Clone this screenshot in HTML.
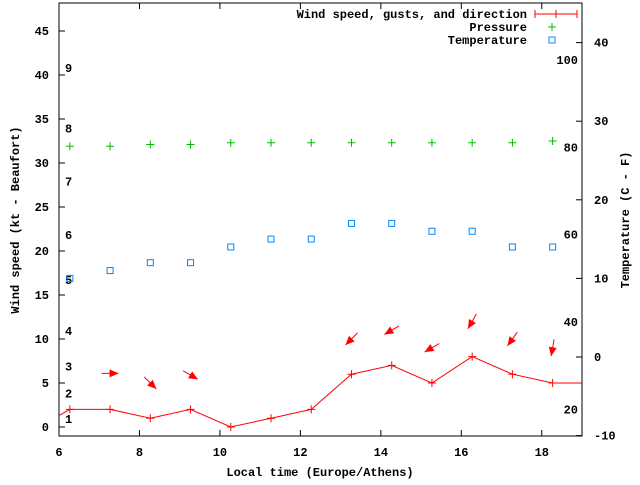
<!DOCTYPE html>
<html><head><meta charset="utf-8"><style>
body{margin:0;background:#fff}
svg text{font-family:"Liberation Mono",monospace;font-size:12px;font-weight:bold;fill:#000}
</style></head><body>
<svg id="c" width="640" height="480" xmlns="http://www.w3.org/2000/svg"></svg>
<script>
const hours=[6.27,7.27,8.27,9.27,10.27,11.27,12.27,13.27,14.27,15.27,16.27,17.27,18.27];
const wind=[2,2,1,2,0,1,2,6,7,5,8,6,5];
const windEdgeStart=[6,1.3];
const windEdgeEnd=[19.27,5];
const pressure=[31.9,31.9,32.1,32.1,32.3,32.3,32.3,32.3,32.3,32.3,32.3,32.3,32.5];
const temperature=[10,11,12,12,14,15,15,17,17,16,16,14,14];
const arrowHours=[7.27,8.27,9.27,13.27,14.27,15.27,16.27,17.27,18.27];
const gusts=[6.1,5,5.9,10,11,9,12,10,9];
const windFrom=[270,315,300,45,60,60,30,35,10];
const xTicks=[6,8,10,12,14,16,18];
const yTicks=[0,5,10,15,20,25,30,35,40,45];
const tTicks=[-10,0,10,20,30,40];
const fTicks=[20,40,60,80,100];
const bftLabels=[1,2,3,4,5,6,7,8,9];
const bftValues=[0.9,3.8,6.9,10.9,16.7,21.8,27.9,33.9,40.8];

const L=59,R=582,T=3,B=436;
const X=h=>L+(h-6)/13*(R-L);
const Y=v=>427-v*8.8;
const TY=t=>357-t*7.86;
const FY=f=>TY((f-32)*5/9);
const svg=document.getElementById('c');
const NS='http://www.w3.org/2000/svg';
function mk(tag,attrs,name,txt){const e=document.createElementNS(NS,tag);for(const k in attrs)e.setAttribute(k,attrs[k]);


if(txt!==undefined)e.textContent=txt;svg.appendChild(e);return e;}
mk('rect',{x:L,y:T,width:R-L,height:B-T,fill:'none',stroke:'#000'},'plot-frame');
xTicks.forEach(h=>{const x=X(h);mk('line',{x1:x,y1:B,x2:x,y2:B-6,stroke:'#000'},'x-tick');mk('line',{x1:x,y1:T,x2:x,y2:T+6,stroke:'#000'},'x-tick-top');
mk('text',{x:x,y:B+20,'text-anchor':'middle'},'x-tick-label',h);});
yTicks.forEach(v=>{const y=Y(v);mk('line',{x1:L,y1:y,x2:L+6,y2:y,stroke:'#000'},'y-tick');
mk('text',{x:L-10,y:y+4,'text-anchor':'end'},'y-tick-label',v);});
tTicks.forEach(t=>{const y=TY(t);mk('line',{x1:R,y1:y,x2:R-6,y2:y,stroke:'#000'},'temp-tick');
mk('text',{x:R+12,y:y+4},'temp-tick-label',t);});
fTicks.forEach(f=>mk('text',{x:R-4,y:FY(f)+4,'text-anchor':'end'},'fahrenheit-label',f));
bftLabels.forEach((b,i)=>mk('text',{x:65,y:Y(bftValues[i])+4},'beaufort-label',b));
mk('text',{x:320,y:476,'text-anchor':'middle'},'x-axis-title','Local time (Europe/Athens)');
mk('text',{x:19,y:220,'text-anchor':'middle',transform:'rotate(-90 19 220)'},'y-axis-title','Wind speed (kt - Beaufort)');
mk('text',{x:629,y:220,'text-anchor':'middle',transform:'rotate(-90 629 220)'},'y2-axis-title','Temperature (C - F)');
// wind line
let pts=[[X(windEdgeStart[0]),Y(windEdgeStart[1])]];
hours.forEach((h,i)=>pts.push([X(h),Y(wind[i])]));
pts.push([R,Y(windEdgeEnd[1])]);
mk('polyline',{points:pts.map(p=>p.join(',')).join(' '),fill:'none',stroke:'#f00'},'wind-line');
hours.forEach((h,i)=>{const x=X(h),y=Y(wind[i]);mk('path',{d:`M${x-4},${y}h8M${x},${y-4}v8`,stroke:'#f00'},'wind-point');});
pressure.forEach((p,i)=>{const x=X(hours[i]),y=Y(p);mk('path',{d:`M${x-4},${y}h8M${x},${y-4}v8`,stroke:'#0b0'},'pressure-point');});
temperature.forEach((t,i)=>{const x=X(hours[i]),y=TY(t);mk('rect',{x:x-3,y:y-3,width:6,height:6,fill:'none',stroke:'#08f'},'temperature-point');});
arrowHours.forEach((h,i)=>{const cx=X(h),cy=Y(gusts[i]);const a=(windFrom[i]+180)*Math.PI/180;
const dx=Math.sin(a),dy=-Math.cos(a),len=17;
const x1=cx-dx*len/2,y1=cy-dy*len/2,x2=cx+dx*len/2,y2=cy+dy*len/2;
const px=-dy,py=dx;
mk('line',{x1:x1,y1:y1,x2:x2,y2:y2,stroke:'#f00'},'wind-direction-arrow');
mk('polygon',{points:`${x2},${y2} ${x2-dx*9+px*4},${y2-dy*9+py*4} ${x2-dx*9-px*4},${y2-dy*9-py*4}`,fill:'#f00'},'arrow-head');});
// legend
mk('text',{x:527,y:18,'text-anchor':'end'},'legend-wind','Wind speed, gusts, and direction');
mk('path',{d:'M535,14h42M535,10v8M577,10v8M556,10v8',stroke:'#f00'},'legend-wind-key');
mk('text',{x:527,y:31,'text-anchor':'end'},'legend-pressure','Pressure');
mk('path',{d:'M548,27h8M552,23v8',stroke:'#0b0'},'legend-pressure-key');
mk('text',{x:527,y:44,'text-anchor':'end'},'legend-temperature','Temperature');
mk('rect',{x:549,y:37,width:6,height:6,fill:'none',stroke:'#08f'},'legend-temperature-key');
</script>
</body></html>
